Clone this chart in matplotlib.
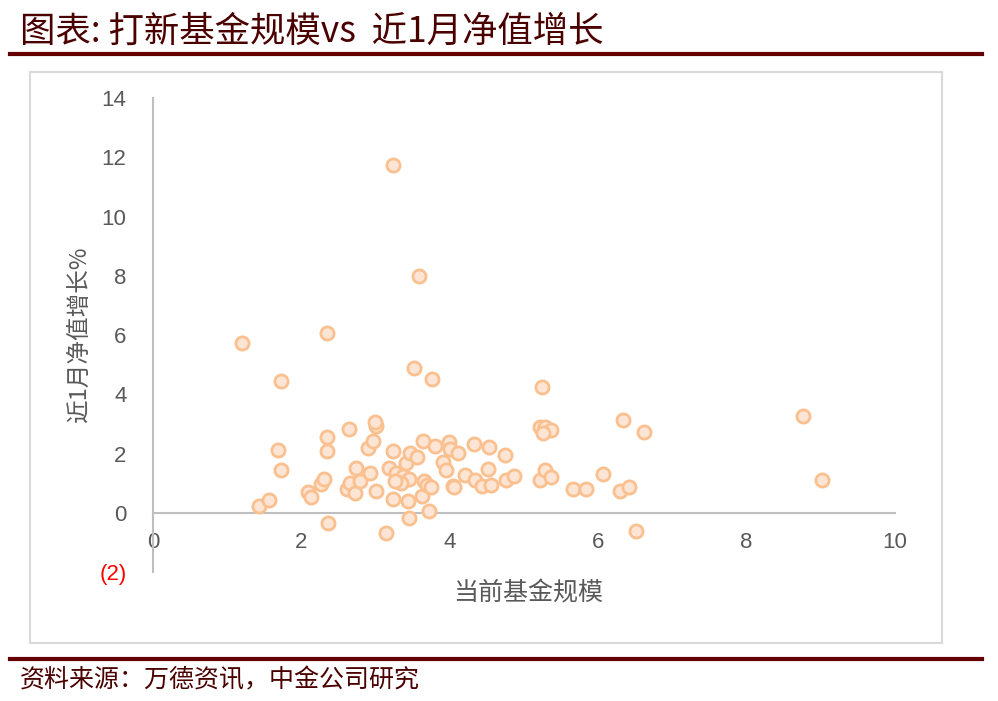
import matplotlib
matplotlib.use("Agg")
import matplotlib.pyplot as plt
from matplotlib.patches import Rectangle
from matplotlib.lines import Line2D

plt.rcParams['font.family'] = ['Liberation Sans', 'Noto Sans CJK SC', 'DejaVu Sans']

# 当前基金规模 (x) vs 近1月净值增长% (y)
fund_size = [1.20, 1.43, 1.57, 1.69, 1.72, 1.73, 2.09, 2.13, 2.27, 2.30,
             2.34, 2.34, 2.34, 2.36, 2.64, 2.61, 2.66, 2.72, 2.74, 2.79,
             2.92, 3.01, 2.90, 2.97, 3.01, 2.99, 3.14, 3.24, 3.18, 3.27,
             3.37, 3.45, 3.34, 3.26, 3.24, 3.41, 3.46, 3.56, 3.64, 3.80,
             3.99, 4.00, 4.11, 3.91, 3.95, 3.24, 3.43, 3.62, 3.65, 3.69,
             3.74, 3.72, 3.45, 3.52, 3.58, 3.76, 4.04, 4.05, 4.20, 4.33,
             4.34, 4.43, 4.56, 4.52, 4.53, 4.75, 4.76, 4.86, 5.22, 5.28,
             5.37, 5.25, 5.24, 5.22, 5.28, 5.36, 5.66, 5.84, 6.07, 6.29,
             6.41, 6.33, 6.62, 6.51, 8.76, 9.02]
nav_growth = [5.72, 0.24, 0.44, 2.13, 4.46, 1.43, 0.70, 0.53, 0.98, 1.15,
              2.55, 2.10, 6.08, -0.33, 2.82, 0.81, 1.00, 0.66, 1.51, 1.06,
              1.34, 0.74, 2.18, 2.44, 2.94, 3.07, -0.69, 11.74, 1.51, 1.36,
              1.25, 1.14, 1.00, 1.06, 2.07, 1.68, 2.01, 1.88, 2.44, 2.24,
              2.39, 2.14, 2.01, 1.70, 1.43, 0.48, 0.41, 0.55, 1.06, 0.94,
              0.87, 0.06, -0.18, 4.90, 8.00, 4.53, 0.91, 0.87, 1.28, 2.32,
              1.11, 0.91, 0.94, 1.48, 2.22, 1.96, 1.09, 1.25, 2.91, 2.91,
              2.80, 2.69, 4.24, 1.11, 1.45, 1.22, 0.79, 0.80, 1.30, 0.72,
              0.87, 3.14, 2.72, -0.63, 3.27, 1.11]

x_ticks = [0, 2, 4, 6, 8, 10]
y_ticks = [-2, 0, 2, 4, 6, 8, 10, 12, 14]
y_tick_labels = ['(2)', '0', '2', '4', '6', '8', '10', '12', '14']

title = '图表: 打新基金规模vs  近1月净值增长'
source = '资料来源：万德资讯，中金公司研究'
maroon = '#660000'
grey_txt = '#595959'

fig = plt.figure(figsize=(9.98, 7.01), dpi=100)

# outer frame and header/footer rules
fig.patches.append(Rectangle((0.030, 0.083), 0.914, 0.815, transform=fig.transFigure,
                             fill=False, edgecolor='#D9D9D9', linewidth=1.5))
fig.lines.append(Line2D([0.010, 0.984], [0.923, 0.923], transform=fig.transFigure,
                        color=maroon, linewidth=3))
fig.lines.append(Line2D([0.010, 0.984], [0.060, 0.060], transform=fig.transFigure,
                        color=maroon, linewidth=3))
fig.text(0.020, 0.954, title, fontsize=25.5, color='#4A0000', style='italic',
         family=['Noto Sans CJK SC', 'DejaVu Sans'], va='center', ha='left')
fig.text(0.020, 0.030, source, fontsize=18, color='#4A0000', style='italic',
         family=['Noto Sans CJK SC', 'DejaVu Sans'], va='center', ha='left')

ax = fig.add_axes([0.1533, 0.184, 0.7435, 0.676])
ax.scatter(fund_size, nav_growth, s=90, facecolor='#FDE5D5', edgecolor='#FAC08F',
           linewidth=2, zorder=3, clip_on=False)

ax.set_xlim(0, 10)
ax.set_ylim(-2, 14)
ax.spines['top'].set_visible(False)
ax.spines['right'].set_visible(False)
ax.spines['bottom'].set_position(('data', 0))
ax.spines['bottom'].set_color('#BFBFBF')
ax.spines['left'].set_color('#BFBFBF')
ax.spines['bottom'].set_linewidth(1.5)
ax.spines['left'].set_linewidth(1.5)

ax.set_xticks(x_ticks)
ax.set_yticks(y_ticks)
ax.set_yticklabels(y_tick_labels)
ax.tick_params(axis='both', length=0, labelsize=16, labelcolor=grey_txt)
ax.tick_params(axis='x', pad=14)
ax.tick_params(axis='y', pad=19)
ax.get_yticklabels()[0].set_color('#FF0000')

fig.text(0.529, 0.154, '当前基金规模', fontsize=18, color=grey_txt,
         family=['Noto Sans CJK SC'], ha='center', va='center')
fig.text(0.080, 0.522, '近1月净值增长%', fontsize=17, color=grey_txt, rotation=90,
         family=['Noto Sans CJK SC'], ha='center', va='center')

fig.savefig('out.png', dpi=100)
